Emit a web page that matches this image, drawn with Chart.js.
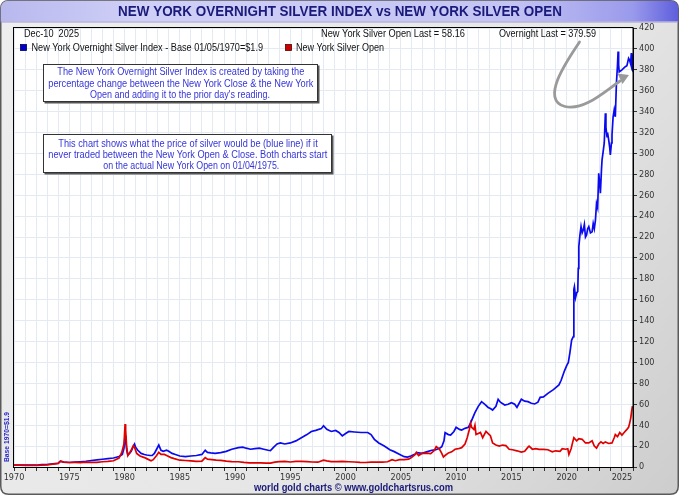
<!DOCTYPE html>
<html>
<head>
<meta charset="utf-8">
<script src="https://cdn.jsdelivr.net/npm/chart.js@4.4.1/dist/chart.umd.min.js"></script>
<style>
html,body{margin:0;padding:0;background:#fff;}
canvas{display:block;}
</style>
</head>
<body>
<canvas id="c" width="680" height="496"></canvas>
<script>
// ---- DATA ----
const overnightYears = [1970.0,1970.5,1971.0,1971.5,1972.0,1972.5,1973.0,1973.5,1974.0,1974.2,1974.5,1975.0,1975.5,1976.0,1976.5,1977.0,1977.5,1978.0,1978.5,1979.0,1979.5,1979.8,1979.95,1980.05,1980.12,1980.2,1980.3,1980.45,1980.6,1980.8,1980.9,1981.0,1981.2,1981.5,1981.8,1982.0,1982.3,1982.5,1982.7,1982.9,1983.1,1983.3,1983.5,1983.8,1984.0,1984.3,1984.6,1985.0,1985.5,1986.0,1986.5,1987.0,1987.3,1987.5,1987.8,1988.2,1988.7,1989.2,1989.7,1990.3,1990.7,1991.0,1991.4,1991.8,1992.2,1992.6,1993.0,1993.2,1993.5,1993.8,1994.1,1994.5,1995.0,1995.5,1996.0,1996.5,1996.9,1997.3,1997.8,1998.0,1998.3,1998.7,1999.1,1999.4,1999.7,2000.0,2000.3,2000.8,2001.4,2002.0,2002.3,2002.6,2003.0,2003.5,2004.0,2004.4,2004.9,2005.3,2005.6,2005.9,2006.3,2006.5,2006.9,2007.4,2007.8,2008.1,2008.5,2008.7,2008.9,2009.0,2009.3,2009.5,2009.8,2010.0,2010.3,2010.5,2010.8,2011.1,2011.3,2011.5,2011.7,2012.0,2012.3,2012.6,2012.9,2013.1,2013.3,2013.6,2013.8,2014.0,2014.4,2014.7,2015.0,2015.3,2015.5,2015.7,2015.9,2016.2,2016.5,2016.8,2017.1,2017.4,2017.6,2017.9,2018.3,2018.8,2019.3,2019.5,2019.8,2020.0,2020.15,2020.3,2020.45,2020.6,2020.65,2020.7,2020.8,2020.9,2021.0,2021.05,2021.1,2021.2,2021.3,2021.4,2021.5,2021.6,2021.7,2021.8,2021.9,2022.0,2022.15,2022.3,2022.4,2022.5,2022.6,2022.7,2022.8,2022.9,2023.0,2023.05,2023.15,2023.2,2023.3,2023.4,2023.5,2023.55,2023.65,2023.7,2023.8,2023.9,2023.95,2024.05,2024.1,2024.2,2024.3,2024.4,2024.5,2024.6,2024.65,2024.7,2024.75,2025.0,2025.3,2025.45,2025.6,2025.7,2025.78,2025.85,2025.88,2025.9,2025.92,2025.94,2025.95];
const overnightValues = [1.9,1.8,1.7,1.8,1.7,2.2,2.4,3.0,3.6,5.5,4.6,4.3,4.6,5.0,5.5,6.2,6.8,7.4,8.0,8.6,10.0,12,18,30,24,16,11.5,13,15,20,22,19,16,13,12,11.5,11,11,13,17,21,16,15,16,15,13,12,10.5,10,10.5,11,12,16,14,13.5,13,13.7,15,17,18.5,19,18,17,17.5,18,17,16,15.6,19,22,23,22,23,25,28,31,34,35,36.7,39.5,36,34,35,33,29.7,32,34,33.5,33,33,31,26.5,23,20,16.5,14.7,12,9.9,9.5,10.5,12.5,13.7,13,14.7,16,16.3,18,19.4,25,32.8,31,30.6,34,38,36,35.4,37,38,42,47,52,58,62.5,60,57,56,54.5,58,64.8,62,59.3,60,61.5,60,57,61,64.8,63,62.5,61,60.3,62,66.7,67,70.5,74,78.5,83,92,97,100,110,121.5,124.7,170,172.5,162,166.5,168,190,210.8,222,230,224,226.8,232,220,222,228,230,224,225,233,228,236,252,248,281,270,262,285,293.8,301.7,310,338.5,325,316,320,313,305,298.6,310,317.7,335,341.6,335,367,385,397.4,385,378,380,383,384,391,389,386,396,381,396,380,395,379.59];

const openYears = [1970.0,1970.5,1971.0,1971.5,1972.0,1972.5,1973.0,1973.5,1974.0,1974.2,1974.5,1975.0,1975.5,1976.0,1976.5,1977.0,1977.5,1978.0,1978.5,1979.0,1979.5,1979.75,1979.95,1980.05,1980.1,1980.2,1980.3,1980.45,1980.6,1980.8,1980.9,1981.1,1981.4,1981.8,1982.0,1982.4,1982.6,1982.9,1983.1,1983.3,1983.6,1983.9,1984.2,1984.5,1985.0,1985.5,1986.0,1986.5,1987.0,1987.3,1987.5,1987.9,1988.3,1988.7,1989.2,1989.7,1990.3,1990.8,1991.3,1991.8,1992.3,1992.8,1993.2,1993.6,1994.0,1994.5,1995.0,1995.5,1996.0,1996.5,1997.0,1997.5,1998.0,1998.3,1998.7,1999.2,1999.7,2000.3,2000.8,2001.3,2001.8,2002.3,2002.8,2003.3,2003.8,2004.2,2004.5,2004.9,2005.3,2005.7,2005.95,2006.3,2006.4,2006.6,2006.9,2007.3,2007.7,2008.0,2008.2,2008.5,2008.7,2008.85,2009.0,2009.3,2009.6,2009.9,2010.2,2010.5,2010.8,2011.0,2011.2,2011.3,2011.4,2011.6,2011.7,2011.8,2012.0,2012.2,2012.4,2012.7,2012.9,2013.1,2013.3,2013.6,2013.9,2014.2,2014.5,2014.8,2015.1,2015.5,2015.9,2016.2,2016.5,2016.6,2016.9,2017.2,2017.5,2017.9,2018.3,2018.7,2019.0,2019.4,2019.6,2019.9,2020.1,2020.2,2020.4,2020.55,2020.65,2020.9,2021.1,2021.4,2021.7,2022.0,2022.3,2022.5,2022.7,2022.9,2023.1,2023.3,2023.5,2023.8,2024.1,2024.3,2024.4,2024.6,2024.8,2025.0,2025.2,2025.45,2025.6,2025.7,2025.8,2025.87,2025.95];
const openValues = [1.8,1.7,1.6,1.5,1.5,1.7,2.0,2.8,3.5,5.5,4.6,4.3,4.4,4.2,4.7,4.5,4.5,5.0,5.4,6.0,8.5,14,22,41,35,18,11,13.5,16,20.5,19,13,10.5,9,8,6,7,11,14,12,12,10.5,9,8,6.5,6.2,5.8,5.3,5.6,9,7.5,7,6.5,6.3,5.6,5.2,5,4.4,4,4,3.9,3.8,3.7,4.7,5.2,5.4,4.8,5.3,5.4,5.1,4.8,4.6,6.5,5.8,5.2,5.2,5.3,5,4.8,4.4,4.3,4.6,4.6,4.6,5.0,7,6,7,7,7.5,9,12,14,11,13,13.3,12.8,15.5,19.5,17,13,9.5,11,13.5,14.5,17,17.5,18.5,22,28,36,42,38,36,40,31,32,33,28,34,32,30,23,21,20,21,20.5,17,16.5,15.5,14.2,15,19,20,17,17.5,16.8,16.8,16.5,14.5,15.5,15,17.5,17,17.5,12,17.5,24,28,25,27,26.5,23,23,25,20,18,22,24,22.5,24,22.5,23,28,31,29,33,30.5,33,36,38,42,47,53,58.16];

const yTickStep = 20;
const xLabelEvery = 5;
const seriesNames = ['New York Overnight Silver Index - Base 01/05/1970=$1.9','New York Silver Open'];

const overnightData = overnightYears.map((x,i)=>({x, y: overnightValues[i]}));
const openData = openYears.map((x,i)=>({x, y: openValues[i]}));

const BLUE = '#0a0af0', RED = '#e00000', TXTBLUE = '#3535d8', NAVY = '#1a1a7a';

function fitText(ctx, s, x0, x1, y, font, color) {
  ctx.save();
  ctx.font = font; ctx.fillStyle = color; ctx.textBaseline = 'middle'; ctx.textAlign = 'left';
  const w = ctx.measureText(s).width;
  const sx = (x1 - x0) / w;
  ctx.translate(x0, y); ctx.scale(sx, 1);
  ctx.fillText(s, 0, 0);
  ctx.restore();
}

function rrect(ctx, x, y, w, h, r) {
  ctx.beginPath();
  ctx.moveTo(x + r, y); ctx.lineTo(x + w - r, y); ctx.quadraticCurveTo(x + w, y, x + w, y + r);
  ctx.lineTo(x + w, y + h - r); ctx.quadraticCurveTo(x + w, y + h, x + w - r, y + h);
  ctx.lineTo(x + r, y + h); ctx.quadraticCurveTo(x, y + h, x, y + h - r);
  ctx.lineTo(x, y + r); ctx.quadraticCurveTo(x, y, x + r, y);
  ctx.closePath();
}

const bgPlugin = {
  id: 'bg',
  beforeDraw(chart) {
    const {ctx, chartArea: a, width: W, height: H} = chart;
    ctx.save();
    ctx.fillStyle = '#ffffff'; ctx.fillRect(0, 0, W, H);
    const g = ctx.createLinearGradient(0, 0, W, H);
    g.addColorStop(0, '#eeeeee'); g.addColorStop(0.6, '#e6e6e6'); g.addColorStop(1, '#cdcdcd');
    rrect(ctx, 0.75, 0.75, W - 2.5, H - 2.5, 8);
    ctx.fillStyle = g; ctx.fill();
    ctx.lineWidth = 1.5; ctx.strokeStyle = '#5a5a5a'; ctx.stroke();
    ctx.save();
    rrect(ctx, 0.75, 0.75, W - 2.5, H - 2.5, 8); ctx.clip();
    const tg = ctx.createLinearGradient(0, 0, W, 0);
    tg.addColorStop(0, '#b8b8ee'); tg.addColorStop(0.2, '#cfcff7'); tg.addColorStop(0.75, '#c4c4f4');
    tg.addColorStop(0.93, '#9a9aec'); tg.addColorStop(1, '#5c5cdc');
    ctx.fillStyle = tg; ctx.fillRect(0, 0, W, 21.5);
    ctx.strokeStyle = '#9c9cd8'; ctx.lineWidth = 1;
    ctx.beginPath(); ctx.moveTo(0, 22); ctx.lineTo(W, 22); ctx.stroke();
    ctx.restore();
    ctx.fillStyle = '#ffffff';
    ctx.fillRect(a.left, a.top, a.right - a.left, a.bottom - a.top);
    ctx.restore();
  },
  afterDraw(chart) {
    const {ctx, chartArea: a} = chart;
    ctx.save();
    ctx.strokeStyle = '#000'; ctx.lineWidth = 1;
    ctx.strokeRect(a.left - 0.5, a.top - 0.5, a.right - a.left + 0.5, a.bottom - a.top + 1);
    fitText(ctx, 'NEW YORK OVERNIGHT SILVER INDEX vs NEW YORK SILVER OPEN', 118, 562, 11.5, 'bold 15px "Liberation Sans", Arial, sans-serif', NAVY);
    const f10 = '10px "Liberation Sans", Arial, sans-serif';
    fitText(ctx, 'Dec-10  2025', 24, 79, 34.5, f10, '#111');
    fitText(ctx, 'New York Silver Open Last = 58.16', 321, 465, 34.5, f10, '#111');
    fitText(ctx, 'Overnight Last = 379.59', 499, 596, 34.5, f10, '#111');
    ctx.fillStyle = '#0000cc'; ctx.fillRect(20.5, 44.5, 6, 6);
    ctx.strokeStyle = '#000055'; ctx.lineWidth = 0.8; ctx.strokeRect(20.5, 44.5, 6, 6);
    fitText(ctx, seriesNames[0], 31.5, 263, 47.8, f10, '#111');
    ctx.fillStyle = '#cc0000'; ctx.fillRect(285.5, 44.5, 6, 6);
    ctx.strokeStyle = '#550000'; ctx.strokeRect(285.5, 44.5, 6, 6);
    fitText(ctx, seriesNames[1], 296, 384, 47.8, f10, '#111');
    function box(x0, y0, x1, y1) {
      ctx.fillStyle = '#555'; ctx.fillRect(x0 + 1.5, y0 + 1.5, x1 - x0, y1 - y0);
      ctx.fillStyle = '#fff'; ctx.fillRect(x0, y0, x1 - x0, y1 - y0);
      ctx.strokeStyle = '#333'; ctx.lineWidth = 1; ctx.strokeRect(x0 + 0.5, y0 + 0.5, x1 - x0 - 1, y1 - y0 - 1);
    }
    const fb = '10px "Liberation Sans", Arial, sans-serif';
    box(43, 64, 318, 102);
    fitText(ctx, 'The New York Overnight Silver Index is created by taking the', 57.3, 304.3, 72.5, fb, TXTBLUE);
    fitText(ctx, 'percentage change between the New York Close & the New York', 48.3, 313.3, 84, fb, TXTBLUE);
    fitText(ctx, "Open and adding it to the prior day's reading.", 90, 270, 95.7, fb, TXTBLUE);
    box(43, 134, 332, 173);
    fitText(ctx, 'This chart shows what the price of silver would be (blue line) if it', 58.3, 317.7, 144.5, fb, TXTBLUE);
    fitText(ctx, 'never traded between the New York Open & Close. Both charts start', 48.3, 327.3, 155.2, fb, TXTBLUE);
    fitText(ctx, 'on the actual New York Open on 01/04/1975.', 103.3, 279.3, 165.9, fb, TXTBLUE);
    ctx.strokeStyle = '#9a9a9a'; ctx.lineWidth = 2.8; ctx.lineCap = 'round';
    ctx.beginPath();
    ctx.moveTo(579.5, 42);
    ctx.bezierCurveTo(566, 62, 540, 100, 565, 106.5);
    ctx.bezierCurveTo(584, 111, 604, 92, 620, 81);
    ctx.stroke();
    ctx.fillStyle = '#9a9a9a';
    ctx.beginPath();
    ctx.moveTo(629, 75); ctx.lineTo(617.5, 73.5); ctx.lineTo(622.5, 84); ctx.closePath(); ctx.fill();
    fitText(ctx, 'world gold charts \u00a9 www.goldchartsrus.com', 254, 453, 487.5, 'bold 11px "Liberation Sans", Arial, sans-serif', NAVY);
    ctx.save();
    ctx.translate(7, 437); ctx.rotate(-Math.PI / 2);
    fitText(ctx, 'Base 1970=$1.9', -25, 25, 0, 'bold 7px "Liberation Sans", Arial, sans-serif', '#2a2acc');
    ctx.restore();
    ctx.restore();
  }
};

new Chart(document.getElementById('c'), {
  type: 'line',
  data: {
    datasets: [
      { label: seriesNames[1], data: openData, borderColor: RED, borderWidth: 1.7, pointRadius: 0, tension: 0, order: 0 },
      { label: seriesNames[0], data: overnightData, borderColor: BLUE, borderWidth: 1.7, pointRadius: 0, tension: 0, order: 1 }
    ]
  },
  options: {
    responsive: false,
    animation: false,
    events: [],
    layout: { padding: { left: 14, top: 28, right: 0, bottom: 0 } },
    plugins: { legend: { display: false }, tooltip: { enabled: false }, title: { display: false } },
    scales: {
      x: {
        type: 'linear', min: 1970, max: 2026, position: 'bottom',
        afterFit(s) { s.height = 29; },
        grid: { color: '#e3eaf2', lineWidth: 1, tickLength: 4, tickColor: '#333', drawTicks: true },
        border: { color: '#000', width: 1 },
        ticks: {
          stepSize: 1, autoSkip: false, maxRotation: 0, padding: 1,
          color: '#333', font: { family: '"Liberation Sans Narrow", "Arial Narrow", "DejaVu Sans Condensed", sans-serif', size: 9 },
          callback: v => (v % xLabelEvery === 0 ? String(v) : '')
        }
      },
      y: {
        type: 'linear', min: 0, max: 420, position: 'right',
        afterFit(s) { s.width = 47; },
        grid: { color: '#e3eaf2', lineWidth: 1, tickLength: 4, tickColor: '#333' },
        border: { color: '#000', width: 1 },
        ticks: {
          stepSize: yTickStep, padding: 2, color: '#333',
          font: { family: '"Liberation Sans Narrow", "Arial Narrow", "DejaVu Sans Condensed", sans-serif', size: 9 }
        }
      }
    }
  },
  plugins: [bgPlugin]
});
</script>
</body>
</html>
